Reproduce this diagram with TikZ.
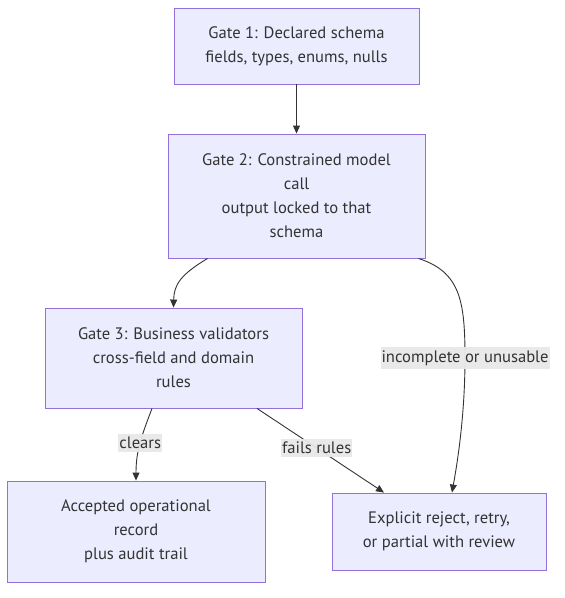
\documentclass[tikz,border=0pt]{standalone}
\usepackage{fontspec}
\setmainfont{PT Sans}
\usetikzlibrary{arrows.meta,positioning}
\definecolor{nodefill}{HTML}{ECECFF}
\definecolor{nodeline}{HTML}{9370DB}
\definecolor{edgecol}{HTML}{333333}
\definecolor{labbg}{HTML}{E8E8E8}
\tikzset{
  box/.style={draw=nodeline, fill=nodefill, line width=0.9pt, text=edgecol,
    align=center, inner sep=0pt, font=\fontsize{16.6}{24}\selectfont},
  conn/.style={draw=edgecol, line width=0.9pt, -{Triangle[length=8pt,width=7pt]}},
  elabel/.style={fill=labbg, fill opacity=0.95, text opacity=1, text=edgecol, inner xsep=1pt, inner ysep=3pt,
    font=\fontsize{16.6}{18}\selectfont}
}
\begin{document}
\begin{tikzpicture}[x=1pt,y=-1pt]
\useasboundingbox (0,0) rectangle (565,598);
\node[box, minimum width=245pt, minimum height=76pt] (g1) at (296.5,46) {Gate 1: Declared schema\\fields, types, enums, nulls};
\node[box, minimum width=257pt, minimum height=124pt] (g2) at (296.5,196) {Gate 2: Constrained model\\call\\output locked to that\\schema};
\node[box, minimum width=257pt, minimum height=100pt] (g3) at (173.5,358) {Gate 3: Business validators\\cross-field and domain\\rules};
\node[box, minimum width=258pt, minimum height=101pt] (acc) at (136,531.5) {Accepted operational\\record\\plus audit trail};
\node[box, minimum width=214pt, minimum height=77pt] (rej) at (439,531.5) {Explicit reject, retry,\\or partial with review};

\draw[conn] (g1.south) -- (g2.north);
\draw[conn] ([xshift=40pt]g2.south west) .. controls (180,275) and (174,285) .. (g3.north);
\draw[conn] ([xshift=-7pt]g2.south east) .. controls (460,272) and (465,300) .. (465,358)
   node[elabel] {incomplete or unusable}
   .. controls (465,420) and (456,470) .. ([xshift=13pt]rej.north);
\draw[conn] ([xshift=-21.5pt]g3.south) .. controls (142,435) and (136,450) .. (acc.north)
   node[elabel, pos=0.5] {clears};
\draw[conn] ([xshift=83.5pt]g3.south) -- ([xshift=-55pt]rej.north)
   node[elabel, pos=0.47] {fails rules};
\end{tikzpicture}
\end{document}
